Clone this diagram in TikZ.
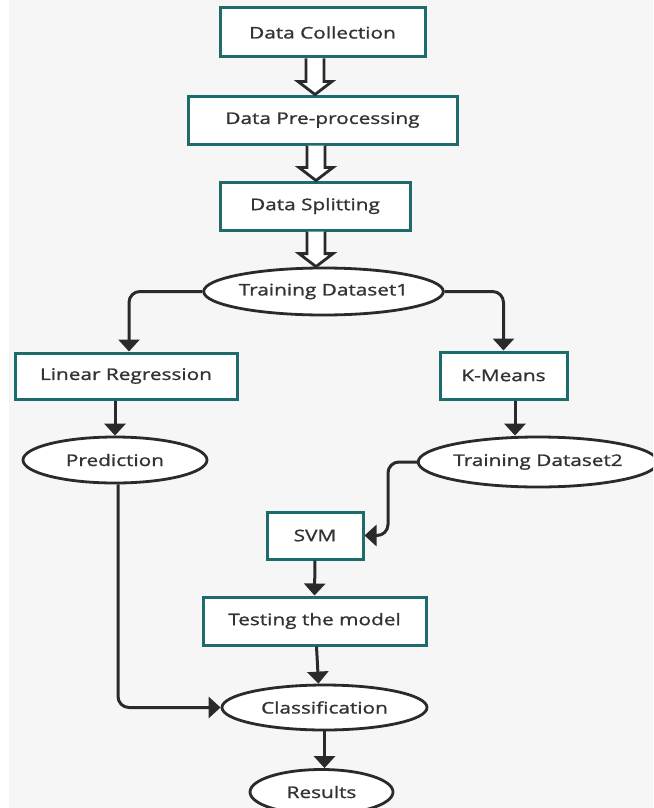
\documentclass[tikz,border=0pt]{standalone}
\usepackage{fontspec}
\setmainfont{Open Sans}
\newfontfamily\lblfont{Open Sans}[FakeBold=1.2,FakeStretch=1.3]
\usetikzlibrary{arrows.meta,shapes.geometric,calc}
\definecolor{bgc}{HTML}{F6F6F6}
\definecolor{boxc}{HTML}{1D6B6B}
\definecolor{linec}{HTML}{2A2A2A}
\definecolor{txtc}{HTML}{333333}
\tikzset{
  stepbox/.style={draw=boxc, line width=3pt, fill=white, rectangle, inner sep=0pt, text=txtc, font=\lblfont\fontsize{16}{19}\selectfont},
  oval/.style={draw=linec, line width=2.8pt, fill=white, ellipse, inner sep=0pt, text=txtc, font=\lblfont\fontsize{16}{19}\selectfont},
  arr/.style={draw=linec, line width=3pt, -{Triangle[width=21pt,length=12pt]}, rounded corners=11pt},
  hollow/.style={draw=linec, line width=2.8pt, fill=white, line join=miter}
}
\begin{document}
\begin{tikzpicture}[x=1pt,y=-1pt]
\useasboundingbox (0,0) rectangle (653,808);
\fill[white] (0,0) rectangle (653,808);
\fill[bgc] (9,0) rectangle (653,808);
\begin{scope}
\clip (0,0) rectangle (653,808);
\node[stepbox, minimum width=205pt, minimum height=49pt] (dc) at (322.5,32.5) {Data Collection};
\node[stepbox, minimum width=269pt, minimum height=48pt] (dp) at (322.5,120) {Data Pre-processing};
\node[stepbox, minimum width=190pt, minimum height=48pt] (ds) at (315,206) {Data Splitting};
\node[oval, minimum width=237pt, minimum height=47pt] (td1) at (323.5,291.5) {Training Dataset1};
\node[stepbox, minimum width=222pt, minimum height=46pt] (lr) at (126,376) {Linear Regression};
\node[stepbox, minimum width=127pt, minimum height=47pt] (km) at (503.5,375.5) {K-Means};
\node[oval, minimum width=184pt, minimum height=46pt] (pred) at (115,460) {Prediction};
\node[oval, minimum width=228pt, minimum height=50pt] (td2) at (538,462) {Training Dataset2};
\node[stepbox, minimum width=96pt, minimum height=47pt] (svm) at (315,535.5) {SVM};
\node[stepbox, minimum width=223pt, minimum height=48pt] (test) at (314.5,621) {Testing the model};
\node[oval, minimum width=205pt, minimum height=45pt] (cls) at (324.5,707.5) {Classification};
\node[oval, minimum width=143pt, minimum height=45pt] (res) at (321.5,792) {Results};

% hollow arrows
\coordinate (a1t) at ([xshift=-7.5pt]dc.south);
\coordinate (a1b) at ([xshift=-7.5pt]dp.north);
\draw[hollow] ([xshift=-9pt]a1t) -- ([xshift=-9pt,yshift=13pt]a1b) -- ([xshift=-17pt,yshift=13pt]a1b) -- (a1b) -- ([xshift=17pt,yshift=13pt]a1b) -- ([xshift=9pt,yshift=13pt]a1b) -- ([xshift=9pt]a1t);
\coordinate (a2t) at ([xshift=-6.5pt]dp.south);
\coordinate (a2b) at (a2t |- ds.north);
\draw[hollow] ([xshift=-9pt]a2t) -- ([xshift=-9pt,yshift=13pt]a2b) -- ([xshift=-17pt,yshift=13pt]a2b) -- (a2b) -- ([xshift=17pt,yshift=13pt]a2b) -- ([xshift=9pt,yshift=13pt]a2b) -- ([xshift=9pt]a2t);
\coordinate (a3t) at ([xshift=1pt]ds.south);
\coordinate (a3b) at (a3t |- td1.north);
\draw[hollow] ([xshift=-9pt]a3t) -- ([xshift=-9pt,yshift=13pt]a3b) -- ([xshift=-17pt,yshift=13pt]a3b) -- (a3b) -- ([xshift=17pt,yshift=13pt]a3b) -- ([xshift=9pt,yshift=13pt]a3b) -- ([xshift=9pt]a3t);

% connectors
\draw[arr] (td1.west) -| ([xshift=3pt]lr.north);
\draw[arr] (td1.east) -| (km.north);
\draw[arr] ([xshift=-11pt]lr.south) -- (pred.north);
\draw[arr] ([xshift=11.5pt]km.south) -- ([xshift=11.5pt]km.south |- td2.north);
\coordinate (k1) at (388,0);
\draw[arr] (td2.west) -- (td2.west -| k1) |- (svm.east);
\draw[arr] (svm.south) -- (test.north);
\draw[arr] ([xshift=2pt]test.south) -- ([xshift=-6pt]cls.north);
\draw[arr] ([xshift=3pt]pred.south) |- (cls.west);
\draw[arr] (cls.south) -- (cls.south |- res.north);
\end{scope}
\end{tikzpicture}
\end{document}
